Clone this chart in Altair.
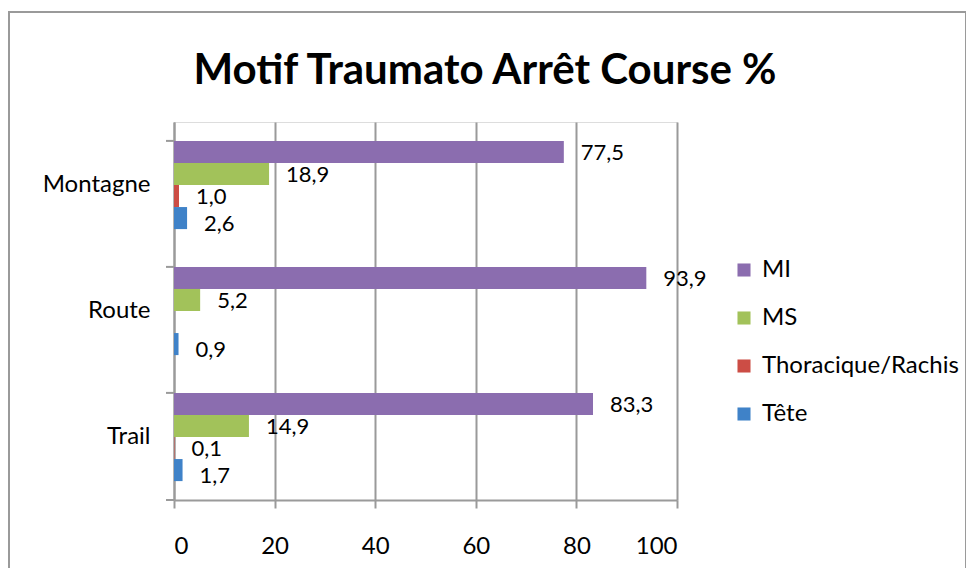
import altair as alt
import pandas as pd

categories = ["Montagne", "Route", "Trail"]
series = ["MI", "MS", "Thoracique/Rachis", "Tête"]
colors = ["#8B6DAF", "#A2C25A", "#CC4D45", "#3F82C8"]
values = {
    "MI": [77.5, 93.9, 83.3],
    "MS": [18.9, 5.2, 14.9],
    "Thoracique/Rachis": [1.0, None, 0.1],
    "Tête": [2.6, 0.9, 1.7],
}
x_ticks = [0, 20, 40, 60, 80, 100]
title_text = "Motif Traumato Arrêt Course %"

rows = []
for s in series:
    for c, v in zip(categories, values[s]):
        if v is not None:
            rows.append({"cat": c, "serie": s, "val": v})
df = pd.DataFrame(rows)

W, H = 503, 378
FONT = "Lato"
FS = 24

y_enc = alt.Y("cat:N", sort=categories,
              scale=alt.Scale(paddingInner=0.3, paddingOuter=0.15),
              axis=alt.Axis(title=None, ticks=False, domain=True, domainColor="#9a9a9a",
                            domainWidth=2, labelFontSize=FS, labelFont=FONT,
                            labelColor="#000000", labelPadding=24))
yoff = alt.YOffset("serie:N", sort=series, scale=alt.Scale(paddingInner=0, paddingOuter=0))

base = alt.Chart(df)

bars = base.mark_bar().encode(
    x=alt.X("val:Q", scale=alt.Scale(domain=[0, 100], nice=False),
            axis=alt.Axis(title=None, values=x_ticks, grid=True, gridColor="#9a9a9a",
                          gridWidth=2, domainColor="#9a9a9a", domainWidth=2,
                          tickColor="#9a9a9a", tickWidth=2, tickSize=8,
                          labelFontSize=FS, labelFont=FONT, labelColor="#000000",
                          labelPadding=26)),
    y=y_enc,
    yOffset=yoff,
    color=alt.Color("serie:N", sort=series,
                    scale=alt.Scale(domain=series, range=colors),
                    legend=alt.Legend(title=None, orient="none", legendX=558, legendY=136,
                                      symbolType="square", symbolSize=170,
                                      symbolStrokeWidth=0, labelFontSize=FS,
                                      labelFont=FONT, labelColor="#000000",
                                      labelLimit=0, rowPadding=24, labelOffset=6)),
)


def label_layer(filter_expr, dy):
    return base.transform_filter(filter_expr).transform_calculate(
        lab="replace(format(datum.val, '.1f'), '.', ',')"
    ).mark_text(align="left", baseline="middle", dx=17, dy=dy,
                fontSize=22, font=FONT, color="#000000").encode(
        x=alt.X("val:Q"),
        y=alt.Y("cat:N", sort=categories),
        yOffset=alt.YOffset("serie:N", sort=series),
        text="lab:N",
    )


labels_main = label_layer("datum.serie != 'Tête'", 1)
labels_tete = label_layer("datum.serie == 'Tête'", 6)

ticks_df = pd.DataFrame({"cat": categories})
yticks = alt.Chart(ticks_df).mark_rule(color="#9a9a9a", strokeWidth=2).encode(
    y=alt.Y("cat:N", sort=categories, bandPosition=0),
    x=alt.value(-8), x2=alt.value(0),
)
ybottom = alt.Chart(ticks_df).mark_rule(color="#9a9a9a", strokeWidth=2).encode(
    y=alt.value(H), x=alt.value(-8), x2=alt.value(0),
)
frame = alt.Chart(ticks_df).mark_rect(fill=None, stroke="#9a9a9a", strokeWidth=2).encode(
    x=alt.value(-165), x2=alt.value(792), y=alt.value(-110), y2=alt.value(470),
)
title = alt.Chart(pd.DataFrame({"t": [title_text]})).mark_text(
    align="center", baseline="middle", fontSize=42, font=FONT, fontWeight="bold",
    color="#000000",
).encode(text="t:N", x=alt.value(311), y=alt.value(-51))

chart = alt.layer(frame, title, bars, labels_main, labels_tete, yticks, ybottom).properties(
    width=W, height=H,
    autosize=alt.AutoSizeParams(type="none"),
    padding={"left": 166, "top": 114, "right": 289, "bottom": 68},
).configure_view(stroke=None).configure(background="#ffffff")

chart.save("out.html", embed_options={"renderer": "svg", "actions": False})
